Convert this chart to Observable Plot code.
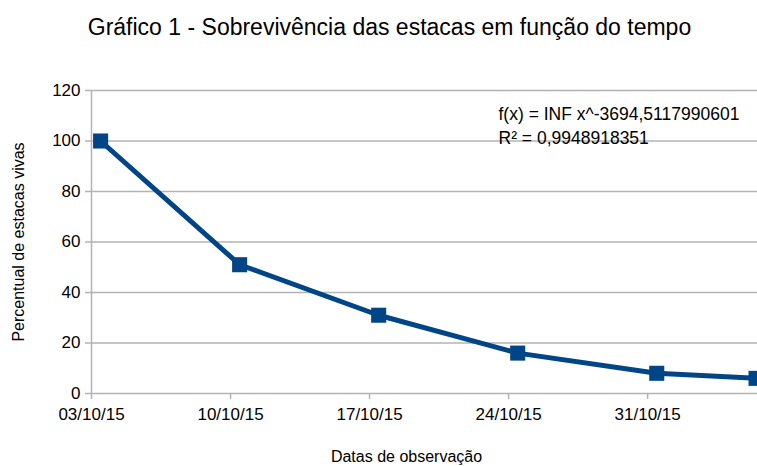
<!DOCTYPE html>
<html>
<head>
<meta charset="utf-8">
<script src="https://cdn.jsdelivr.net/npm/d3@7"></script>
<script src="https://cdn.jsdelivr.net/npm/@observablehq/plot@0.6"></script>
<style>
  html, body { margin: 0; padding: 0; background: #fff; }
  body { width: 757px; height: 466px; overflow: hidden; font-family: "Liberation Sans", Arial, sans-serif; }
  #title { height: 55px; line-height: 55px; text-align: center; font-size: 23px; color: #000; padding-left: 22px; box-sizing: border-box; }
</style>
</head>
<body>
<div id="title">Gráfico 1 - Sobrevivência das estacas em função do tempo</div>
<div id="chart"></div>
<script>
const dates = ["2015-10-03T11:00Z", "2015-10-10T11:00Z", "2015-10-17T11:00Z", "2015-10-24T11:00Z", "2015-10-31T11:00Z", "2015-11-05T11:00Z"];
const survival = [100, 51, 31, 16, 8, 6];
const xTicks = ["2015-10-03T00:00Z", "2015-10-10T00:00Z", "2015-10-17T00:00Z", "2015-10-24T00:00Z", "2015-10-31T00:00Z"];
const yTicks = [0, 20, 40, 60, 80, 100, 120];
const xLabel = "Datas de observação";
const yLabel = "Percentual de estacas vivas";
const trendText = "f(x) = INF x^-3694,5117990601\nR² = 0,9948918351";

const data = dates.map((d, i) => ({date: new Date(d), value: survival[i]}));
const fmt = d3.utcFormat("%d/%m/%y");
const blue = "#004586";
const grid = "#b3b3b3";

const chart = Plot.plot({
  width: 757,
  height: 411,
  marginTop: 35,
  marginBottom: 73,
  marginLeft: 91,
  marginRight: 0,
  style: {fontFamily: '"Liberation Sans", Arial, sans-serif', fontSize: "17px", color: "#000", overflow: "hidden"},
  x: {type: "utc", domain: [new Date("2015-10-03T00:00Z"), new Date("2015-11-05T12:45Z")]},
  y: {domain: [0, 120]},
  marks: [
    Plot.ruleY(yTicks, {stroke: grid, strokeWidth: 1.5}),
    Plot.ruleX([0], {x: () => new Date("2015-10-03T00:00Z"), stroke: grid, strokeWidth: 1.5}),
    Plot.axisY({ticks: yTicks, tickSize: 6, tickPadding: 5, stroke: grid, strokeWidth: 1.5, label: null, fontSize: 17}),
    Plot.axisX({ticks: xTicks.map(d => new Date(d)), tickFormat: fmt, tickSize: 6, tickPadding: 8, stroke: grid, strokeWidth: 1.5, label: null, fontSize: 17}),
    Plot.line(data, {x: "date", y: "value", stroke: blue, strokeWidth: 5, strokeLinejoin: "round"}),
    Plot.dot(data, {x: "date", y: "value", symbol: "square", r: 8.5, fill: blue, stroke: "none"}),
    Plot.text([xLabel], {frameAnchor: "bottom", dx: -18, dy: 68, fontSize: 16, fill: "#000"}),
    Plot.text([yLabel], {frameAnchor: "left", textAnchor: "middle", rotate: -90, dx: -73, fontSize: 16, fill: "#000"}),
    Plot.text([trendText], {frameAnchor: "top-left", dx: 407, dy: 13, textAnchor: "start", lineAnchor: "top", lineHeight: 1.35, fontSize: 17.5, fill: "#000"})
  ]
});
document.getElementById("chart").appendChild(chart);
</script>
</body>
</html>
